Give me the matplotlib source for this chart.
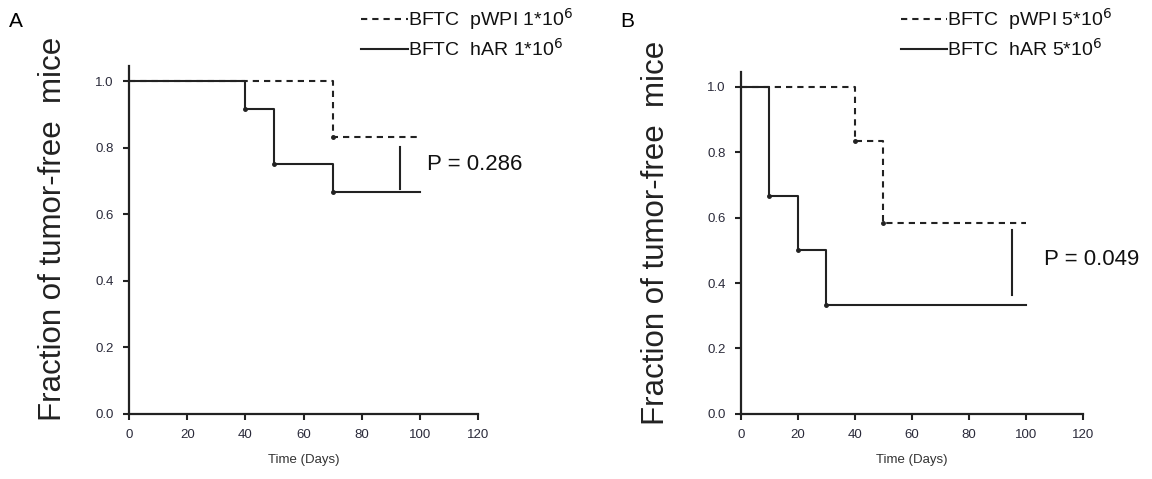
import matplotlib.pyplot as plt

plt.rcParams['font.family'] = ['Liberation Sans', 'DejaVu Sans']

# panel A (1*10^6 cells)
a_ctrl_t = [0, 70, 100]
a_ctrl_s = [1.0, 0.833, 0.833]
a_har_t = [0, 40, 50, 70, 100]
a_har_s = [1.0, 0.917, 0.75, 0.667, 0.667]
a_p = "P = 0.286"
a_bar = (93, 0.677, 0.802)

# panel B (5*10^6 cells)
b_ctrl_t = [0, 40, 50, 100]
b_ctrl_s = [1.0, 0.833, 0.583, 0.583]
b_har_t = [0, 10, 20, 30, 100]
b_har_s = [1.0, 0.667, 0.5, 0.333, 0.333]
b_p = "P = 0.049"
b_bar = (95, 0.364, 0.561)

xticks = [0, 20, 40, 60, 80, 100, 120]
yticks = [0.0, 0.2, 0.4, 0.6, 0.8, 1.0]

fig = plt.figure(figsize=(11.52, 4.79), dpi=100)
axA = fig.add_axes([0.112, 0.136, 0.303, 0.727])
axB = fig.add_axes([0.643, 0.136, 0.297, 0.713])

lc = '#222222'
dash = (0, (3, 2.4))

for ax, ct, cs, ht, hs, ptxt, bar, px, ytop, ylx in [
        (axA, a_ctrl_t, a_ctrl_s, a_har_t, a_har_s, a_p, a_bar, 102.5, 1.047, -0.175),
        (axB, b_ctrl_t, b_ctrl_s, b_har_t, b_har_s, b_p, b_bar, 106.5, 1.044, -0.205)]:
    ax.step(ht, hs, where='post', color=lc, lw=1.5)
    ax.plot(ht[1:-1], hs[1:-1], 'o', color=lc, ms=2.5)
    ax.step(ct, cs, where='post', color=lc, lw=1.5, ls=dash)
    ax.plot(ct[1:-1], cs[1:-1], 'o', color=lc, ms=2.5)
    ax.plot([bar[0], bar[0]], [bar[1], bar[2]], color=lc, lw=1.5)
    ax.text(px, (bar[1] + bar[2]) / 2 + 0.01, ptxt, fontsize=16,
            va='center', ha='left', color='#111111')
    ax.set_xlim(0, 120)
    ax.set_ylim(0, ytop)
    ax.set_xticks(xticks)
    ax.set_yticks(yticks)
    ax.set_yticklabels(["%.1f" % v for v in yticks])
    ax.spines['top'].set_visible(False)
    ax.spines['right'].set_visible(False)
    for side in ['left', 'bottom']:
        ax.spines[side].set_linewidth(1.6)
        ax.spines[side].set_color(lc)
    ax.tick_params(direction='out', length=4, width=1.5, color=lc,
                   labelsize=9.5, labelcolor='#2a2a3a', pad=7)
    ax.set_xlabel("Time (Days)", fontsize=9.5, color='#333333', labelpad=9)
    ax.set_ylabel("Fraction of tumor-free  mice", fontsize=22.5, color='#222222')
    ax.yaxis.set_label_coords(ylx, 0.53)

# legends drawn as figure lines + text
legend_rows = [
    (0.313, 0.960, 0.354, "BFTC  pWPI 1*10$^6$", dash),
    (0.313, 0.898, 0.354, "BFTC  hAR 1*10$^6$", '-'),
    (0.782, 0.960, 0.822, "BFTC  pWPI 5*10$^6$", dash),
    (0.782, 0.898, 0.822, "BFTC  hAR 5*10$^6$", '-'),
]
for x0, y0, x1, label, ls in legend_rows:
    fig.add_artist(plt.Line2D([x0, x1], [y0, y0], transform=fig.transFigure,
                              color=lc, lw=1.5, ls=ls))
    fig.text(x1, y0, label, fontsize=14, va='center', ha='left', color='#111111')

fig.text(0.008, 0.955, "A", fontsize=15, va='center')
fig.text(0.538, 0.955, "B", fontsize=15, va='center')

fig.savefig("out.png", dpi=100)
